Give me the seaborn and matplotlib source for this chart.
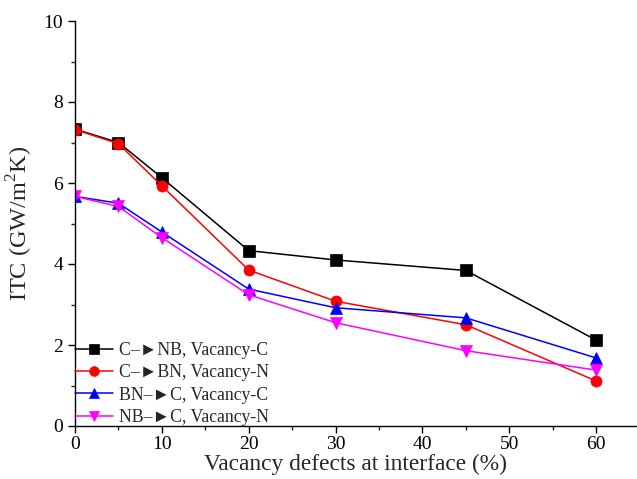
import matplotlib
matplotlib.use("Agg")
import matplotlib.pyplot as plt
from matplotlib.ticker import MultipleLocator
import seaborn as sns
import pandas as pd

vacancy = [0, 5, 10, 20, 30, 45, 60]
c_nb = [7.33, 7.00, 6.13, 4.33, 4.10, 3.84, 2.12]
c_bn = [7.32, 6.97, 5.93, 3.85, 3.08, 2.50, 1.11]
bn_c = [5.67, 5.50, 4.79, 3.38, 2.92, 2.67, 1.68]
nb_c = [5.67, 5.42, 4.65, 3.24, 2.55, 1.86, 1.38]

labels = ["C\u2013\u25BANB, Vacancy-C", "C\u2013\u25BABN, Vacancy-N",
          "BN\u2013\u25BAC, Vacancy-C", "NB\u2013\u25BAC, Vacancy-N"]
series = [c_nb, c_bn, bn_c, nb_c]
colors = ["#000000", "#FF0000", "#0000FF", "#FF00FF"]
markers = ["s", "o", "^", "v"]

rows = []
for lab, vals in zip(labels, series):
    for x, y in zip(vacancy, vals):
        rows.append({"x": x, "y": y, "series": lab})
df = pd.DataFrame(rows)

sns.set_style("ticks")
plt.rcParams["font.family"] = ["Liberation Serif", "DejaVu Serif"]
plt.rcParams["mathtext.fontset"] = "custom"
plt.rcParams["mathtext.rm"] = "Liberation Serif"

fig = plt.figure(figsize=(6.37, 4.79), dpi=100)
ax = fig.add_axes([75/637, 1-426/479, 1-75/637, (426-21)/479])

sns.lineplot(data=df, x="x", y="y", hue="series", style="series",
             hue_order=labels, style_order=labels,
             palette=colors, markers=markers, dashes=False,
             markersize=8, linewidth=1.1, markeredgewidth=0.5,
             ax=ax, legend=True)
for line, c in zip(ax.lines, colors):
    line.set_markeredgecolor(c)

ax.set_xlim(0, 64.7)
ax.set_ylim(0, 10)
ax.xaxis.set_major_locator(MultipleLocator(10))
ax.xaxis.set_minor_locator(MultipleLocator(5))
ax.yaxis.set_major_locator(MultipleLocator(2))
ax.yaxis.set_minor_locator(MultipleLocator(1))
ax.tick_params(which="major", direction="out", length=5, width=1, labelsize=14, colors="black")
ax.tick_params(which="minor", direction="out", length=3, width=1)
ax.tick_params(axis="x", which="major", pad=2.5)
for s in ["top", "right"]:
    ax.spines[s].set_visible(False)
for s in ["left", "bottom"]:
    ax.spines[s].set_linewidth(1)
    ax.spines[s].set_color("black")

ax.set_xlabel("Vacancy defects at interface (%)", fontsize=16.8, labelpad=0)
ax.set_ylabel("ITC (GW/m$^2$K)", fontsize=17.5, labelpad=6)

leg = ax.legend(loc="lower left", frameon=False, fontsize=12.8,
                handlelength=2.15, handletextpad=0.3, labelspacing=0.3,
                borderaxespad=0.0, borderpad=0.0)
for h, c in zip(leg.get_lines(), colors):
    h.set_markeredgecolor(c)
    h.set_markersize(7)

fig.savefig("out.png", dpi=100)
